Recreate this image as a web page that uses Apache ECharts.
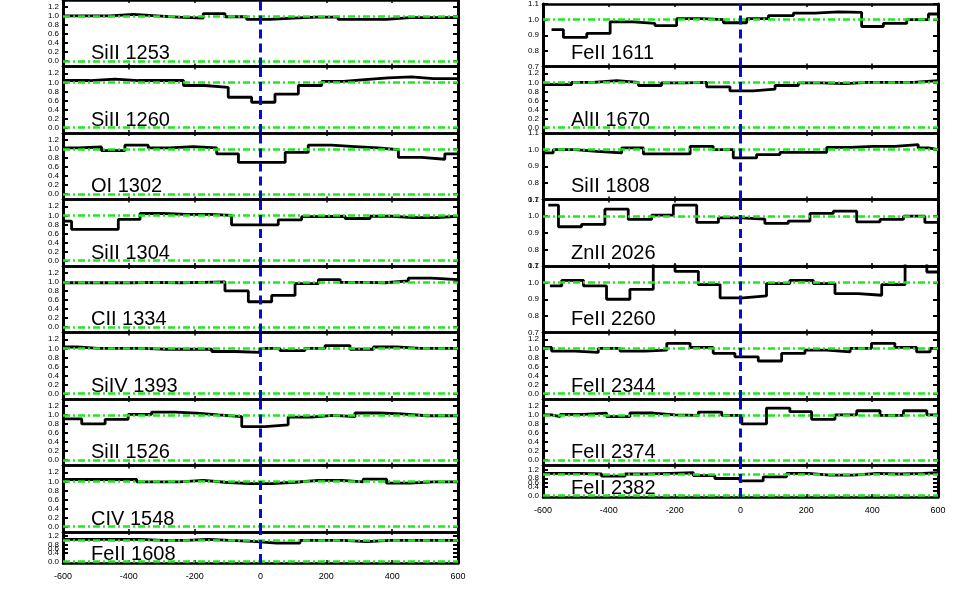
<!DOCTYPE html>
<html><head><meta charset="utf-8">
<script src="https://cdn.jsdelivr.net/npm/echarts@6/dist/echarts.min.js"></script>
<style>html,body{margin:0;padding:0;background:#fff;}#c{width:960px;height:600px;}</style>
</head><body><div id="c"></div>
<script>
// ---------- data (velocity bin edges in km/s, normalized flux per bin) ----------
const xTickValues = [-600, -400, -200, 0, 200, 400, 600];
const fullTicks = [0.0, 0.2, 0.4, 0.6, 0.8, 1.0, 1.2];
const zoomTicks = [0.7, 0.8, 0.9, 1.0, 1.1];

const leftLabels = ['SiII 1253','SiII 1260','OI 1302','SiII 1304','CII 1334','SiIV 1393','SiII 1526','CIV 1548','FeII 1608'];
const rightLabels = ['FeII 1611','AlII 1670','SiII 1808','ZnII 2026','FeII 2260','FeII 2344','FeII 2374','FeII 2382'];

const vel_SiII1253 = [-600,-528,-457,-386,-315,-250,-174,-108,-42,29,100,170,236,307,383,454,520,600];
const flux_SiII1253 = [1.0,1.0,1.03,1.0,0.97,0.95,1.05,0.98,0.92,0.95,0.97,0.97,0.92,0.92,0.96,0.96,0.96];

const vel_SiII1260 = [-600,-518,-442,-371,-300,-234,-169,-98,-27,44,115,186,252,317,388,459,525,600];
const flux_SiII1260 = [1.04,1.07,1.04,1.04,1.04,0.93,0.89,0.67,0.56,0.74,0.93,1.02,1.06,1.10,1.12,1.08,1.08];

const vel_OI1302 = [-600,-553,-483,-412,-341,-275,-204,-133,-67,4,75,145,216,287,358,419,489,560,600];
const flux_OI1302 = [1.02,1.04,0.96,1.08,1.02,1.05,1.02,0.89,0.70,0.70,0.92,1.08,1.05,1.02,0.98,0.81,0.77,0.89];

const vel_SiII1304 = [-600,-574,-503,-432,-366,-295,-224,-153,-88,-17,54,125,191,257,333,398,464,535,600];
const flux_SiII1304 = [0.87,0.69,0.69,0.91,1.04,1.02,1.02,1.0,0.79,0.79,0.90,0.97,0.98,0.93,0.98,0.95,0.95,0.98];

const vel_CII1334 = [-600,-529,-458,-388,-317,-245,-174,-108,-37,34,105,176,242,312,378,449,520,600];
const flux_CII1334 = [0.98,0.98,0.98,0.99,0.98,0.99,1.0,0.80,0.56,0.70,0.96,1.05,0.99,0.98,1.02,1.08,1.05];

const vel_SiIV1393 = [-600,-558,-493,-422,-356,-285,-219,-148,-78,-2,59,135,196,272,343,414,485,555,600];
const flux_SiIV1393 = [1.03,1.0,1.0,1.0,0.98,0.98,0.98,0.93,0.91,1.0,0.95,1.0,1.06,0.98,1.03,1.0,1.0,1.0];

const vel_SiII1526 = [-600,-543,-472,-402,-331,-260,-194,-128,-57,14,84,155,221,287,358,429,505,600];
const flux_SiII1526 = [0.91,0.80,0.90,1.01,1.06,1.04,1.0,0.96,0.74,0.78,0.95,0.99,0.96,1.04,1.02,0.98,0.98];

const vel_CIV1548 = [-600,-518,-447,-376,-310,-245,-174,-108,-32,34,105,176,247,312,383,454,525,600];
const flux_CIV1548 = [1.04,1.04,1.04,0.99,0.99,1.02,0.98,0.95,0.95,0.98,1.02,1.02,0.99,1.05,0.96,0.99,0.99];

const vel_FeII1608 = [-600,-530,-460,-366,-295,-224,-159,-93,-22,49,120,186,252,322,393,464,530,600];
const flux_FeII1608 = [1.05,1.05,1.05,1.0,1.0,1.05,1.0,0.95,0.87,0.87,1.0,1.0,0.94,1.0,1.0,1.0,1.0];

const vel_FeII1611 = [-574,-538,-467,-396,-326,-260,-194,-118,-52,19,85,161,226,297,368,434,505,571,600];
const flux_FeII1611 = [0.936,0.886,0.912,0.986,0.976,0.962,1.006,1.0,0.98,1.006,1.026,1.042,1.05,1.046,0.956,0.976,1.0,1.036];

const vel_AlII1670 = [-600,-513,-447,-376,-310,-240,-169,-103,-32,39,105,176,247,317,388,454,525,600];
const flux_AlII1670 = [0.95,1.0,1.04,1.0,0.93,0.99,1.0,0.90,0.81,0.85,0.93,0.99,0.97,1.0,1.0,1.0,1.04];

const vel_SiII1808 = [-600,-569,-503,-437,-361,-295,-224,-153,-83,-22,49,120,191,262,333,404,469,540,571,600];
const flux_SiII1808 = [0.98,1.0,0.99,0.98,1.01,0.974,0.974,1.02,1.0,0.95,0.97,0.984,0.984,1.014,1.02,1.02,1.03,1.01,1.0];

const vel_ZnII2026 = [-584,-553,-483,-412,-341,-270,-204,-133,-67,3,74,145,211,282,353,424,495,560,600];
const flux_ZnII2026 = [1.066,0.936,0.95,1.042,0.98,1.006,1.066,0.962,0.99,0.982,0.956,0.97,1.016,1.03,0.966,0.98,1.0,0.962];

const vel_FeII2260 = [-579,-543,-477,-407,-336,-265,-199,-128,-62,8,79,150,221,287,358,429,500,566,600];
const flux_FeII2260 = [0.98,1.014,0.98,0.90,0.96,1.13,1.068,0.988,0.908,0.92,0.994,1.014,0.994,0.934,0.924,0.988,1.13,1.064];

const vel_FeII2344 = [-600,-574,-503,-432,-366,-290,-224,-153,-83,-17,54,125,196,262,333,398,469,535,576,600];
const flux_FeII2344 = [1.02,0.94,0.91,1.0,0.94,0.96,1.11,1.02,0.89,0.81,0.72,0.89,0.96,0.92,1.0,1.11,1.02,0.92,1.0];

const vel_FeII2374 = [-600,-574,-548,-477,-407,-336,-265,-199,-128,-57,4,79,150,216,287,353,424,495,566,600];
const flux_FeII2374 = [1.0,0.96,1.01,1.04,0.96,1.04,1.0,0.99,1.06,0.99,0.80,1.15,1.07,0.90,1.0,1.09,0.99,1.09,1.0];

const vel_FeII2382 = [-600,-529,-488,-422,-351,-285,-214,-143,-78,-2,69,140,206,272,343,414,485,555,600];
const flux_FeII2382 = [1.03,1.03,1.0,0.9,1.0,1.03,1.06,0.92,0.79,0.68,0.87,1.03,0.95,0.95,1.03,1.0,1.03,1.06];

// ---------- panel list ----------
const panels = [
  {col:0,row:0,label:leftLabels[0],vel:vel_SiII1253,flux:flux_SiII1253,kind:'full'},
  {col:0,row:1,label:leftLabels[1],vel:vel_SiII1260,flux:flux_SiII1260,kind:'full'},
  {col:0,row:2,label:leftLabels[2],vel:vel_OI1302,flux:flux_OI1302,kind:'full'},
  {col:0,row:3,label:leftLabels[3],vel:vel_SiII1304,flux:flux_SiII1304,kind:'full'},
  {col:0,row:4,label:leftLabels[4],vel:vel_CII1334,flux:flux_CII1334,kind:'full'},
  {col:0,row:5,label:leftLabels[5],vel:vel_SiIV1393,flux:flux_SiIV1393,kind:'full'},
  {col:0,row:6,label:leftLabels[6],vel:vel_SiII1526,flux:flux_SiII1526,kind:'full'},
  {col:0,row:7,label:leftLabels[7],vel:vel_CIV1548,flux:flux_CIV1548,kind:'full'},
  {col:0,row:8,label:leftLabels[8],vel:vel_FeII1608,flux:flux_FeII1608,kind:'short'},
  {col:1,row:0,label:rightLabels[0],vel:vel_FeII1611,flux:flux_FeII1611,kind:'zoom'},
  {col:1,row:1,label:rightLabels[1],vel:vel_AlII1670,flux:flux_AlII1670,kind:'full'},
  {col:1,row:2,label:rightLabels[2],vel:vel_SiII1808,flux:flux_SiII1808,kind:'zoom'},
  {col:1,row:3,label:rightLabels[3],vel:vel_ZnII2026,flux:flux_ZnII2026,kind:'zoom'},
  {col:1,row:4,label:rightLabels[4],vel:vel_FeII2260,flux:flux_FeII2260,kind:'zoom'},
  {col:1,row:5,label:rightLabels[5],vel:vel_FeII2344,flux:flux_FeII2344,kind:'full'},
  {col:1,row:6,label:rightLabels[6],vel:vel_FeII2374,flux:flux_FeII2374,kind:'full'},
  {col:1,row:7,label:rightLabels[7],vel:vel_FeII2382,flux:flux_FeII2382,kind:'short'}
];

// ---------- layout / style ----------
const colX = [63, 543];
const colW = 395;
const rowH = 66.5;
const shortH = [31, 31.5];
const FONT = '"Liberation Sans", Arial, sans-serif';
const GREEN = '#22e822';
const BLUE = '#0a0ad8';

const grids = [], xAxes = [], yAxes = [], series = [], graphics = [];

panels.forEach((p, g) => {
  const top = p.row * rowH;
  const h = p.kind === 'short' ? shortH[p.col] : rowH;
  const bottom = top + h;
  const isLast = p.kind === 'short';
  let ymin, ymax, ticks;
  if (p.kind === 'zoom') { ymin = 0.7; ymax = 1.1; ticks = zoomTicks; }
  else if (p.kind === 'short') { ymin = -0.08; ymax = 1.4; ticks = fullTicks; }
  else { ymin = -0.12; ymax = 1.35; ticks = fullTicks; }

  grids.push({left: colX[p.col], top: top, width: colW, height: h, show: false});

  const xBase = {
    type: 'value', gridIndex: g, min: -600, max: 600, interval: 200,
    axisLine: {show: true, onZero: false, lineStyle: {color: '#000', width: 2.5}},
    axisTick: {show: true, inside: true, length: 3, lineStyle: {color: '#000', width: 1.5}},
    splitLine: {show: false}
  };
  xAxes.push(Object.assign({}, xBase, {position: 'bottom',
    axisLabel: {show: isLast, color: '#000', fontSize: 9, margin: 9, fontFamily: FONT,
      showMinLabel: true, showMaxLabel: true}}));
  xAxes.push(Object.assign({}, xBase, {position: 'top', axisLabel: {show: false}}));

  const yBase = {
    type: 'value', gridIndex: g, min: ymin, max: ymax,
    axisLine: {show: true, onZero: false, lineStyle: {color: '#000', width: 3}},
    axisTick: {show: true, inside: true, length: 5, customValues: ticks, lineStyle: {color: '#000', width: 2}},
    splitLine: {show: false}
  };
  yAxes.push(Object.assign({}, yBase, {position: 'left',
    axisLabel: {show: true, customValues: ticks, interval: 0, color: '#000', fontSize: 8, margin: 4, fontFamily: FONT,
      showMinLabel: true, showMaxLabel: true, hideOverlap: false,
      formatter: v => Number(v).toFixed(1)}}));
  yAxes.push(Object.assign({}, yBase, {position: 'right', axisLabel: {show: false}}));

  const data = p.flux.map((f, k) => [p.vel[k], f]);
  data.push([p.vel[p.vel.length - 1], p.flux[p.flux.length - 1]]);

  const greenStyle = {color: GREEN, width: 2.5, type: [7, 3, 2, 3]};
  const mlData = [{yAxis: 1.0, lineStyle: greenStyle}];
  if (p.kind !== 'zoom') mlData.push({yAxis: 0.0, lineStyle: greenStyle});
  mlData.push({xAxis: 0, lineStyle: {color: BLUE, width: 3, type: [9, 5]}});

  series.push({
    type: 'line', xAxisIndex: 2 * g, yAxisIndex: 2 * g, data: data, step: 'end',
    symbol: 'none', clip: true, animation: false, silent: true,
    lineStyle: {color: '#000', width: 2.8},
    markLine: {silent: true, symbol: ['none', 'none'], label: {show: false}, z: 5, animation: false,
      emphasis: {disabled: true}, data: mlData}
  });

  graphics.push({
    type: 'text', x: colX[p.col] + 28, y: isLast ? bottom + 1.5 : bottom - 3,
    style: {text: p.label, font: '20px ' + FONT, fill: '#000', textAlign: 'left', textVerticalAlign: 'bottom', verticalAlign: 'bottom'},
    z: 10, silent: true
  });
});

const chart = echarts.init(document.getElementById('c'), null, {renderer: 'canvas'});
chart.setOption({
  animation: false,
  backgroundColor: '#fff',
  grid: grids, xAxis: xAxes, yAxis: yAxes, series: series,
  graphic: graphics
});
</script></body></html>
